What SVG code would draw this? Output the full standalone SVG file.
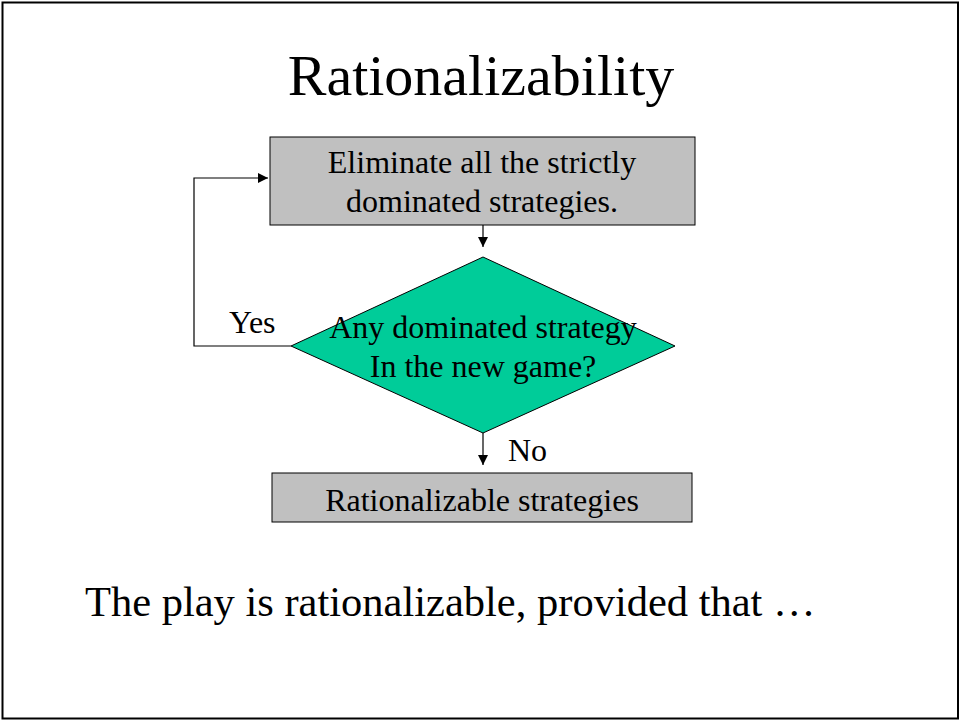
<svg xmlns="http://www.w3.org/2000/svg" width="961" height="721" viewBox="0 0 961 721">
  <defs>
    <style>
      text { font-family: "Liberation Serif", "Times New Roman", serif; fill: #000; }
      .lbl { font-size: 32px; }
      .box { fill: #C0C0C0; stroke: #000; stroke-width: 1; }
      .dia { fill: #00CC99; stroke: #000; stroke-width: 1; }
      .wire { fill: none; stroke: #000; stroke-width: 1.2; }
    </style>
    <marker id="arrow" viewBox="0 0 10 10" refX="10" refY="5" markerWidth="10" markerHeight="10" markerUnits="userSpaceOnUse" orient="auto">
      <path d="M0,0 L10,5 L0,10 Z" fill="#000"/>
    </marker>
  </defs>

  <!-- page -->
  <rect x="0" y="0" width="961" height="721" fill="#fff"/>
  <rect x="2.5" y="2.5" width="955.5" height="716" fill="none" stroke="#000" stroke-width="2"/>

  <text x="481" y="95" font-size="58" text-anchor="middle">Rationalizability</text>

  <g id="connectors">
    <path class="wire" d="M483,225 V247" marker-end="url(#arrow)"/>
    <path class="wire" d="M291,346 H194 V178 H268" marker-end="url(#arrow)"/>
    <path class="wire" d="M483,433 V465" marker-end="url(#arrow)"/>
    <text class="lbl" x="229" y="333">Yes</text>
    <text class="lbl" x="508" y="461">No</text>
  </g>

  <g id="eliminate">
    <rect class="box" x="270" y="137" width="425" height="88"/>
    <text class="lbl" x="482" y="173" text-anchor="middle">Eliminate all the strictly</text>
    <text class="lbl" x="482" y="212" text-anchor="middle">dominated strategies.</text>
  </g>

  <g id="decision">
    <polygon class="dia" points="483,257 675,346 483,433 291,346"/>
    <text class="lbl" x="483" y="338" text-anchor="middle">Any dominated strategy</text>
    <text class="lbl" x="483" y="377" text-anchor="middle">In the new game?</text>
  </g>

  <g id="result">
    <rect class="box" x="272" y="473" width="420" height="49"/>
    <text class="lbl" x="482" y="511" text-anchor="middle">Rationalizable strategies</text>
  </g>

  <text x="85" y="616" font-size="42.5">The play is rationalizable, provided that …</text>
</svg>
